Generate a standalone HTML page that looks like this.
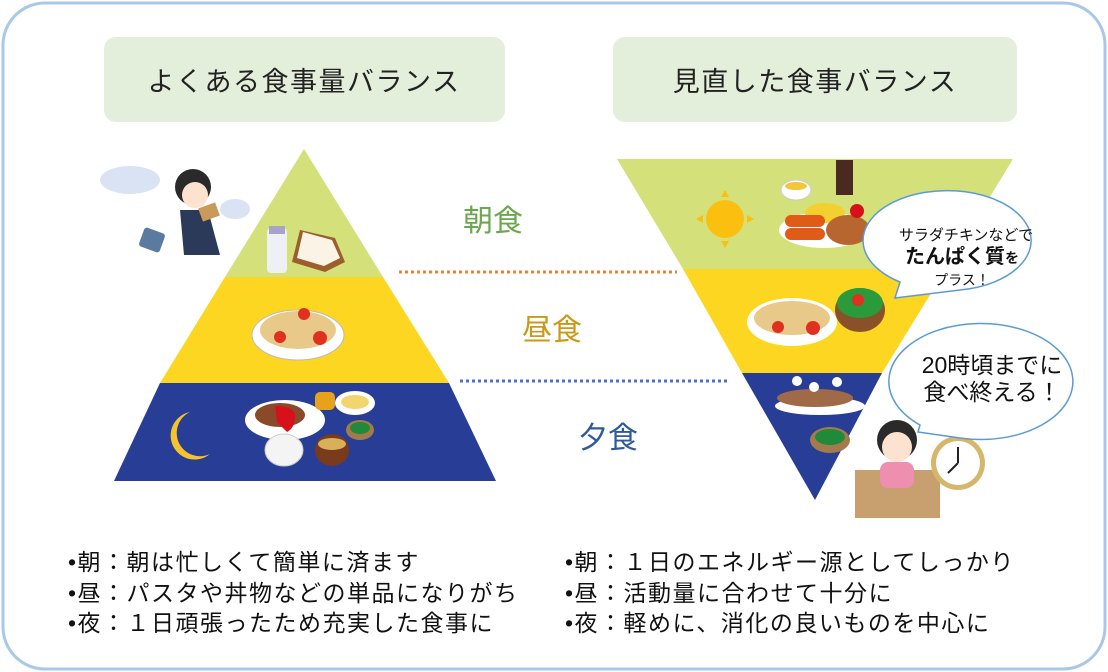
<!DOCTYPE html>
<html><head><meta charset="utf-8"><style>
html,body{margin:0;padding:0;background:#fff}
svg{display:block}
text{font-family:"Liberation Sans","Noto Sans CJK JP",sans-serif}
</style></head><body>
<svg width="1108" height="672" viewBox="0 0 1108 672" xmlns="http://www.w3.org/2000/svg">
<rect x="3" y="3" width="1102" height="666" rx="42" fill="#fff" stroke="#a9c8e8" stroke-width="3"/>
<rect x="104" y="37" width="401" height="85" rx="12" fill="#e3efdb"/>
<rect x="613" y="37" width="404" height="85" rx="12" fill="#e3efdb"/>
<text x="304" y="91" font-size="27" text-anchor="middle" fill="#222" letter-spacing="1.5">よくある食事量バランス</text>
<text x="815" y="91" font-size="27" text-anchor="middle" fill="#222" letter-spacing="1.5">見直した食事バランス</text>

<!-- left pyramid -->
<polygon points="304,149 383,277 225,277" fill="#d4e07a"/>
<polygon points="225,277 383,277 449,383 160,383" fill="#fcd620"/>
<polygon points="160,383 449,383 496,481 114,481" fill="#283d96"/>
<path d="M190,412 a24,24 0 1 0 20,42 a20,20 0 1 1 -20,-42z" fill="#f5c42c"/>
<rect x="267" y="228" width="20" height="45" rx="4" fill="#eef0f6"/>
<rect x="269" y="226" width="16" height="8" fill="#a9a3c9"/>
<polygon points="300,230 335,238 345,262 325,272 292,262" fill="#9b5e2c"/>
<polygon points="303,232 332,240 340,258 324,266 297,258" fill="#fbf3e6"/>
<ellipse cx="298" cy="335" rx="46" ry="25" fill="#fff" stroke="#bbb"/>
<ellipse cx="298" cy="330" rx="38" ry="19" fill="#e8c98a"/>
<circle cx="280" cy="337" r="6" fill="#e03020"/><circle cx="320" cy="338" r="7" fill="#e03020"/><circle cx="304" cy="314" r="6" fill="#e03020"/>
<ellipse cx="285" cy="420" rx="40" ry="20" fill="#fff"/>
<ellipse cx="280" cy="415" rx="25" ry="12" fill="#8a4a2a"/>
<path d="M275,406 q20,0 20,10 q0,12 -8,16 l-10,-10z" fill="#d8101c"/>
<ellipse cx="355" cy="403" rx="20" ry="12" fill="#fff"/><ellipse cx="355" cy="402" rx="14" ry="7" fill="#f3d56e"/>
<ellipse cx="360" cy="430" rx="14" ry="10" fill="#a47a4c"/><ellipse cx="360" cy="428" rx="10" ry="6" fill="#1f8a3a"/>
<ellipse cx="284" cy="450" rx="19" ry="16" fill="#f4f4f4" stroke="#ccc"/>
<ellipse cx="332" cy="450" rx="17" ry="16" fill="#7a3a1c"/><ellipse cx="332" cy="444" rx="14" ry="6" fill="#d9b05a"/>
<rect x="315" y="392" width="20" height="18" rx="5" fill="#e6a21a"/>
<ellipse cx="130" cy="180" rx="30" ry="14" fill="#d9e3f3"/>
<ellipse cx="235" cy="209" rx="15" ry="10" fill="#d9e3f3"/>
<circle cx="193" cy="187" r="18" fill="#2a2a2a"/><circle cx="195" cy="195" r="13" fill="#fde2cf"/>
<path d="M180,210 l28,0 l12,45 l-36,0z" fill="#2b3a58"/>
<rect x="200" y="205" width="18" height="14" fill="#c99a5a" transform="rotate(-20 209 212)"/>
<rect x="141" y="230" width="22" height="20" rx="3" fill="#5a7aa0" transform="rotate(20 152 240)"/>

<!-- right inverted -->
<polygon points="617,159 1013,159 946,269 683,269" fill="#d4e07a"/>
<polygon points="683,269 946,269 882,373 742,373" fill="#fcd620"/>
<polygon points="742,373 882,373 815,500" fill="#283d96"/>
<circle cx="725" cy="219" r="19" fill="#fbbf10"/>
<g fill="#fbbf10"><polygon points="725,190 721,197 729,197"/><polygon points="725,248 721,241 729,241"/><polygon points="696,219 703,215 703,223"/><polygon points="754,219 747,215 747,223"/></g>
<ellipse cx="796" cy="190" rx="15" ry="10" fill="#fff" stroke="#ccc"/><ellipse cx="796" cy="186" rx="11" ry="4" fill="#f1c63a"/>
<rect x="836" y="160" width="17" height="35" fill="#4a2a20"/>
<ellipse cx="824" cy="230" rx="45" ry="18" fill="#fff"/>
<ellipse cx="825" cy="213" rx="20" ry="10" fill="#f3d030"/>
<rect x="785" y="215" width="40" height="12" rx="6" fill="#e05a18"/>
<rect x="785" y="228" width="40" height="12" rx="6" fill="#e05a18"/>
<ellipse cx="848" cy="230" rx="22" ry="15" fill="#b86630"/>
<circle cx="857" cy="211" r="7" fill="#d8101c"/>
<ellipse cx="792" cy="322" rx="45" ry="24" fill="#fff"/><ellipse cx="792" cy="318" rx="38" ry="17" fill="#e8c98a"/>
<circle cx="778" cy="327" r="6" fill="#e03020"/><circle cx="813" cy="328" r="7" fill="#e03020"/>
<ellipse cx="860" cy="310" rx="25" ry="22" fill="#8a5028"/><ellipse cx="860" cy="303" rx="23" ry="15" fill="#2a9a3a"/><circle cx="858" cy="300" r="6" fill="#e03020"/>
<ellipse cx="820" cy="406" rx="45" ry="9" fill="#fff"/>
<ellipse cx="815" cy="398" rx="38" ry="9" fill="#a06a48"/>
<ellipse cx="830" cy="440" rx="20" ry="13" fill="#a47a4c"/><ellipse cx="830" cy="437" rx="15" ry="8" fill="#1f8a3a"/>
<g fill="#fff"><circle cx="797" cy="381" r="5"/><circle cx="814" cy="387" r="5"/><circle cx="837" cy="382" r="5"/></g>
<rect x="855" y="470" width="85" height="48" fill="#c8a070"/>
<circle cx="897" cy="440" r="20" fill="#2a2a2a"/><circle cx="897" cy="447" r="15" fill="#fde2cf"/>
<rect x="880" y="462" width="34" height="26" rx="8" fill="#ef8fb0"/>
<circle cx="958" cy="463" r="27" fill="#d6b66a"/><circle cx="958" cy="463" r="22" fill="#fff"/>
<line x1="958" y1="463" x2="958" y2="447" stroke="#222" stroke-width="2"/><line x1="958" y1="463" x2="948" y2="473" stroke="#222" stroke-width="2"/>

<!-- bubbles -->
<path d="M900,282 A84,50 0 1 1 960,290 L895,298 Z" fill="#fff" stroke="#5b9bd5" stroke-width="1.5"/>
<text x="966" y="240" font-size="15" text-anchor="middle" fill="#111">サラダチキンなどで</text>
<text x="962" y="263" font-size="20" text-anchor="middle" fill="#111" font-weight="bold">たんぱく質<tspan font-size="14">を</tspan></text>
<text x="962" y="285" font-size="14" text-anchor="middle" fill="#111">プラス！</text>
<path d="M920,425 A92,58 0 1 1 960,438 L918,432 Z" fill="#fff" stroke="#5b9bd5" stroke-width="1.5"/>
<text x="992" y="373" font-size="23" text-anchor="middle" fill="#111">20時頃までに</text>
<text x="992" y="400" font-size="23" text-anchor="middle" fill="#111">食べ終える！</text>

<line x1="399" y1="272" x2="677" y2="272" stroke="#f08030" stroke-width="3" stroke-dasharray="3,3"/>
<line x1="460" y1="381" x2="727" y2="381" stroke="#4a70c8" stroke-width="3" stroke-dasharray="3,3"/>
<text x="493" y="231" font-size="30" text-anchor="middle" fill="#6aa84f">朝食</text>
<text x="552" y="340" font-size="30" text-anchor="middle" fill="#c99a1a">昼食</text>
<text x="608" y="448" font-size="30" text-anchor="middle" fill="#2d5a9a">夕食</text>

<g font-size="23" fill="#111" letter-spacing="1.5">
<text x="68" y="570">•朝：朝は忙しくて簡単に済ます</text>
<text x="68" y="601">•昼：パスタや丼物などの単品になりがち</text>
<text x="68" y="631">•夜：１日頑張ったため充実した食事に</text>
<text x="565" y="570">•朝：１日のエネルギー源としてしっかり</text>
<text x="565" y="601">•昼：活動量に合わせて十分に</text>
<text x="565" y="631">•夜：軽めに、消化の良いものを中心に</text>
</g>
</svg>
</body></html>
